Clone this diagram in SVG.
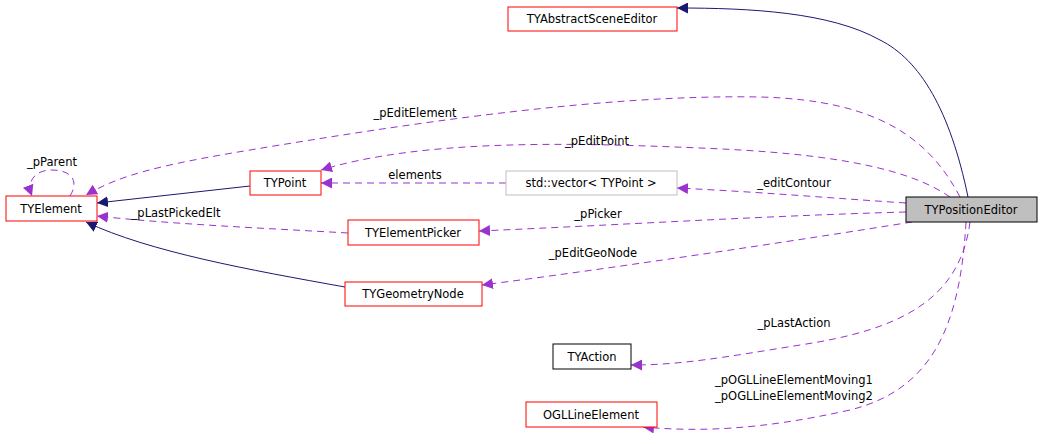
<svg xmlns="http://www.w3.org/2000/svg" width="1043" height="444" viewBox="0 0 1043 444">
<style>
text{font-family:"DejaVu Sans",sans-serif;font-size:11.5px;fill:#000;text-anchor:middle}
.n{fill:#fff;stroke:#f00;stroke-width:1}
.g{fill:#fff;stroke:#bfbfbf}
.b{fill:#fff;stroke:#000}
.u{fill:none;stroke:#9a32cd;stroke-dasharray:7,5}
.i{fill:none;stroke:#191970}
</style>
<defs>
<marker id="mp" viewBox="0 0 10 10" refX="10" refY="5" markerWidth="11" markerHeight="11" markerUnits="userSpaceOnUse" orient="auto"><path d="M0,0L10,5L0,10z" fill="#9a32cd"/></marker>
<marker id="mn" viewBox="0 0 10 10" refX="10" refY="5" markerWidth="11" markerHeight="11" markerUnits="userSpaceOnUse" orient="auto"><path d="M0,0L10,5L0,10z" fill="#191970"/></marker>
</defs>
<rect width="1043" height="444" fill="#fff"/>
<g id="edges">
<path class="i" marker-end="url(#mn)" d="M968,197 C950,110 920,60 880,40 C830,12 750,8 677,8"/>
<path class="u" marker-end="url(#mp)" d="M960,197 C930,140 880,100 760,97 C600,94 400,125 250,150 C160,165 120,175 86,195"/>
<path class="u" marker-end="url(#mp)" d="M950,197 C900,162 800,152 700,148 C560,142 420,140 321,170"/>
<path class="u" marker-end="url(#mp)" d="M506,183 L321,183"/>
<path class="u" marker-end="url(#mp)" d="M906,203 C830,198 760,192 677,188"/>
<path class="u" marker-end="url(#mp)" d="M906,212 C760,216 620,225 479,231"/>
<path class="u" marker-end="url(#mp)" d="M912,222 C800,240 600,270 482,285"/>
<path class="u" marker-end="url(#mp)" d="M348,233 C260,228 170,224 97,216"/>
<path class="i" marker-end="url(#mn)" d="M250,186 L97,203"/>
<path class="i" marker-end="url(#mn)" d="M345,287 C250,270 150,252 86,222"/>
<path class="u" marker-end="url(#mp)" d="M70,196 C80,180 70,170 52,170 C36,170 26,180 32,196"/>
<path class="u" marker-end="url(#mp)" d="M970,222 C960,300 900,330 800,345 C720,358 680,365 631,365"/>
<path class="u" marker-end="url(#mp)" d="M966,222 C960,330 930,390 850,410 C760,430 700,432 643,427"/>
</g>
<g id="labels">
<text x="415" y="117">_pEditElement</text>
<text x="597" y="145">_pEditPoint</text>
<text x="415" y="179">elements</text>
<text x="794" y="187">_editContour</text>
<text x="598" y="218">_pPicker</text>
<text x="593" y="257">_pEditGeoNode</text>
<text x="176" y="217">_pLastPickedElt</text>
<text x="52" y="166">_pParent</text>
<text x="794" y="327">_pLastAction</text>
<text x="794" y="384">_pOGLLineElementMoving1</text>
<text x="794" y="400">_pOGLLineElementMoving2</text>
</g>
<g id="TYAbstractSceneEditor"><rect class="n" x="508" y="7" width="169" height="24"/><text x="592" y="23">TYAbstractSceneEditor</text></g>
<g id="TYElement"><rect class="n" x="6" y="196" width="91" height="25"/><text x="51" y="213">TYElement</text></g>
<g id="TYPoint"><rect class="n" x="250" y="171" width="71" height="24"/><text x="285" y="187">TYPoint</text></g>
<g id="vector"><rect class="g" x="506" y="171" width="171" height="24"/><text x="591" y="187">std::vector&lt; TYPoint &gt;</text></g>
<g id="TYElementPicker"><rect class="n" x="348" y="220" width="131" height="25"/><text x="413" y="237">TYElementPicker</text></g>
<g id="TYGeometryNode"><rect class="n" x="345" y="282" width="137" height="24"/><text x="413" y="298">TYGeometryNode</text></g>
<g id="TYPositionEditor"><rect x="906" y="197" width="131" height="25" fill="#bfbfbf" stroke="#000"/><text x="971" y="214">TYPositionEditor</text></g>
<g id="TYAction"><rect class="b" x="553" y="344" width="78" height="25"/><text x="592" y="361">TYAction</text></g>
<g id="OGLLineElement"><rect class="n" x="526" y="402" width="131" height="25"/><text x="591" y="419">OGLLineElement</text></g>
</svg>
